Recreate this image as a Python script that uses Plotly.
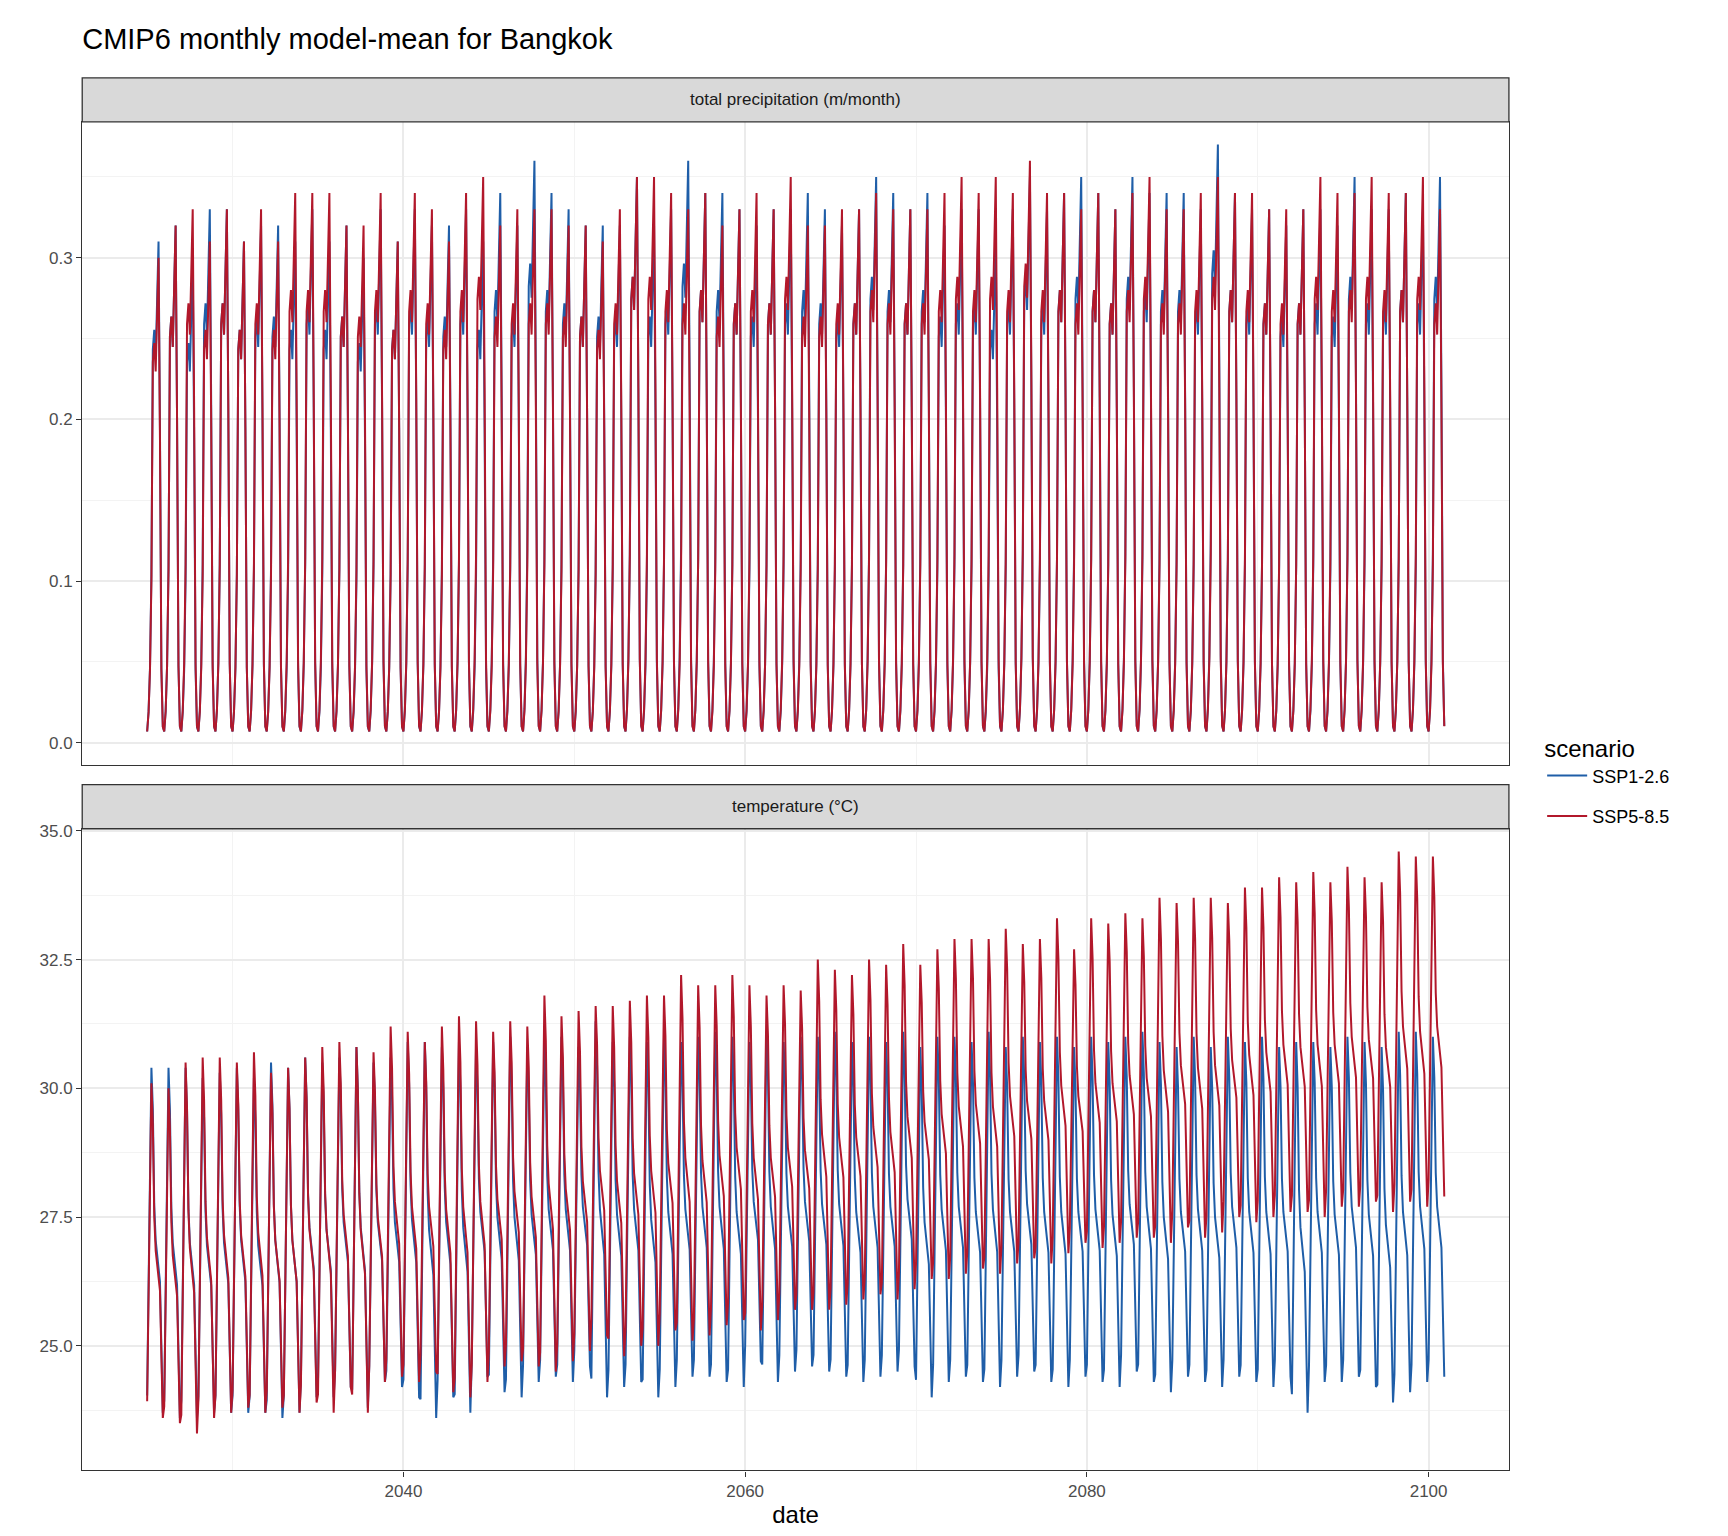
import plotly.graph_objects as go
from plotly.subplots import make_subplots

W, H = 1728, 1536
S = 1728 / 1560  # reference coordinates were measured on a 1560-wide view

years = list(range(2025, 2101))

# annual peaks / troughs (2025..2100)
tmax_126 = [30.4, 30.4, 30.4, 30.2, 30.3, 30.4, 30.2, 30.5, 30.4, 30.6, 30.5, 30.6, 30.8, 30.5, 30.6,
            30.9, 30.9, 30.8, 30.9, 30.8, 30.9, 31.0, 30.8, 30.9, 31.0, 30.8, 31.3, 30.9, 31.0, 30.9,
            31.0, 30.9, 31.0, 31.1, 31.0, 30.9, 31.1, 30.9, 31.0, 31.0, 31.1, 30.9, 31.0, 30.9, 31.1,
            30.8, 31.0, 31.0, 30.9, 31.1, 30.8, 31.0, 30.9, 31.0, 30.8, 31.0, 30.9, 31.0, 31.1, 30.9,
            30.8, 31.0, 30.8, 31.0, 30.9, 31.0, 30.8, 30.9, 30.9, 30.8, 31.0, 30.9, 30.8, 31.1, 31.1, 31.0]
tmin_126 = [23.7, 23.6, 23.6, 23.7, 23.7, 23.7, 23.7, 23.6, 23.7, 24.0, 24.0, 24.2, 23.8, 24.3, 24.2,
            24.0, 23.6, 24.0, 23.7, 24.4, 24.1, 24.0, 24.3, 24.4, 24.3, 24.6, 24.0, 24.2, 24.3, 24.0,
            24.2, 24.4, 24.4, 24.3, 24.2, 24.7, 24.3, 24.5, 24.6, 24.5, 24.4, 24.3, 24.4, 24.5, 24.6,
            24.0, 24.3, 24.4, 24.3, 24.2, 24.4, 24.5, 24.3, 24.2, 24.4, 24.3, 24.2, 24.5, 24.3, 24.1,
            24.4, 24.3, 24.2, 24.4, 24.3, 24.2, 24.4, 23.7, 24.3, 24.3, 24.4, 24.2, 23.9, 24.1, 24.3, 24.4]
tmax_585 = [30.1, 30.0, 30.5, 30.6, 30.6, 30.5, 30.7, 30.3, 30.4, 30.6, 30.8, 30.9, 30.8, 30.7, 31.2,
            31.1, 30.9, 31.2, 31.4, 31.3, 31.1, 31.3, 31.2, 31.8, 31.4, 31.5, 31.6, 31.6, 31.7, 31.8,
            31.8, 32.2, 32.0, 32.0, 32.2, 32.0, 31.8, 32.0, 31.9, 32.5, 32.3, 32.2, 32.5, 32.4, 32.8,
            32.4, 32.7, 32.9, 32.9, 32.9, 33.1, 32.8, 32.9, 33.3, 32.7, 33.3, 33.2, 33.4, 33.3, 33.7,
            33.6, 33.7, 33.7, 33.6, 33.9, 33.9, 34.1, 34.0, 34.2, 34.0, 34.3, 34.1, 34.0, 34.6, 34.5, 34.5]
tmin_585 = [23.6, 23.5, 23.3, 23.6, 23.7, 23.8, 23.7, 23.8, 23.7, 23.9, 23.7, 24.2, 23.7, 24.3, 24.4,
            24.3, 24.5, 24.1, 24.0, 24.3, 24.6, 24.7, 24.6, 24.5, 24.7, 24.9, 25.2, 24.8, 25.0, 25.0,
            25.3, 25.1, 25.2, 25.4, 25.5, 25.3, 25.5, 25.7, 25.7, 25.7, 25.8, 25.9, 26.0, 25.9, 26.1,
            26.3, 26.3, 26.4, 26.5, 26.4, 26.6, 26.7, 26.6, 26.8, 27.0, 26.9, 27.0, 27.1, 27.1, 27.0,
            27.3, 27.1, 27.2, 27.5, 27.4, 27.5, 27.6, 27.6, 27.5, 27.7, 27.7, 27.8, 27.6, 27.8, 27.7, 27.9]
pmax_126 = [0.31, 0.32, 0.30, 0.33, 0.33, 0.31, 0.32, 0.32, 0.31, 0.33, 0.31, 0.32, 0.30, 0.33, 0.31,
            0.33, 0.32, 0.32, 0.33, 0.31, 0.34, 0.32, 0.36, 0.34, 0.33, 0.32, 0.32, 0.32, 0.35, 0.32,
            0.33, 0.36, 0.34, 0.34, 0.33, 0.32, 0.33, 0.33, 0.34, 0.33, 0.32, 0.33, 0.35, 0.34, 0.33,
            0.34, 0.32, 0.33, 0.33, 0.31, 0.33, 0.35, 0.33, 0.34, 0.35, 0.34, 0.33, 0.35, 0.34, 0.34,
            0.34, 0.33, 0.37, 0.34, 0.33, 0.33, 0.32, 0.33, 0.33, 0.32, 0.35, 0.33, 0.33, 0.34, 0.33, 0.35]
pmax_585 = [0.30, 0.32, 0.33, 0.31, 0.33, 0.31, 0.33, 0.31, 0.34, 0.34, 0.34, 0.32, 0.32, 0.34, 0.31,
            0.34, 0.33, 0.31, 0.34, 0.35, 0.32, 0.33, 0.33, 0.33, 0.32, 0.32, 0.31, 0.33, 0.35, 0.35,
            0.34, 0.33, 0.34, 0.32, 0.33, 0.34, 0.33, 0.35, 0.32, 0.32, 0.33, 0.33, 0.34, 0.33, 0.33,
            0.33, 0.34, 0.35, 0.34, 0.35, 0.34, 0.36, 0.34, 0.34, 0.33, 0.34, 0.33, 0.34, 0.35, 0.33,
            0.33, 0.34, 0.35, 0.34, 0.34, 0.33, 0.33, 0.33, 0.35, 0.34, 0.34, 0.35, 0.34, 0.34, 0.35, 0.33]
# monthly seasonal shape (Jan..Dec), 0 = annual trough, 1 = annual peak
temp_shape = [0.05, 0.4, 0.75, 1.0, 0.88, 0.6, 0.5, 0.45, 0.42, 0.38, 0.22, 0.0]
prcp_shape = [0.0, 0.04, 0.13, 0.32, 0.78, 0.82, 0.76, 0.88, 1.0, 0.62, 0.13, 0.01]
prcp_floor = 0.007


def monthly(lo, hi, shape):
    xs, ys = [], []
    for i, yr in enumerate(years):
        for m, s in enumerate(shape):
            xs.append(yr + m / 12)
            ys.append(lo[i] + (hi[i] - lo[i]) * s)
    return xs, ys


BLUE, RED = '#1f5ea8', '#b2182b'
fig = make_subplots(rows=2, cols=1)

for name, col, pmax, tmin, tmax in [('SSP1-2.6', BLUE, pmax_126, tmin_126, tmax_126),
                                    ('SSP5-8.5', RED, pmax_585, tmin_585, tmax_585)]:
    px, py = monthly([prcp_floor] * len(years), pmax, prcp_shape)
    fig.add_trace(go.Scatter(x=px, y=py, mode='lines', line=dict(color=col, width=2),
                             name=name, legendgroup=name), row=1, col=1)
    tx, ty = monthly(tmin, tmax, temp_shape)
    fig.add_trace(go.Scatter(x=tx, y=ty, mode='lines', line=dict(color=col, width=2),
                             name=name, legendgroup=name, showlegend=False), row=2, col=1)

px0, px1 = 67 * S / W, 1355 * S / W
top = [1 - 680 * S / H, 1 - 97 * S / H]
bot = [1 - 1320 * S / H, 1 - 738 * S / H]
ax_style = dict(showline=True, mirror=True, linecolor='#333333', linewidth=1.3,
                gridcolor='#ebebeb', gridwidth=1.6, zeroline=False, ticks='outside',
                ticklen=5, tickcolor='#333333', tickfont=dict(size=17, color='#4d4d4d'))
fig.update_xaxes(range=[2021.2, 2104.7], tick0=2000, dtick=20,
                 minor=dict(dtick=10, showgrid=True, gridcolor='#f3f3f3', gridwidth=1),
                 domain=[px0, px1], **ax_style)
fig.update_xaxes(showticklabels=False, ticks='', row=1, col=1)
fig.update_xaxes(title=dict(text='date', font=dict(size=24, color='black'), standoff=6), row=2, col=1)
fig.update_yaxes(range=[-0.0136, 0.384], tick0=0, dtick=0.1, tickformat='.1f', domain=top,
                 minor=dict(dtick=0.05, showgrid=True, gridcolor='#f3f3f3', gridwidth=1),
                 row=1, col=1, **ax_style)
fig.update_yaxes(range=[22.58, 35.04], tick0=25, dtick=2.5, tickformat='.1f', domain=bot,
                 minor=dict(tick0=25, dtick=1.25, showgrid=True, gridcolor='#f3f3f3', gridwidth=1),
                 row=2, col=1, **ax_style)

for (y0, y1, label) in [(1 - 97 * S / H, 1 - 57 * S / H, 'total precipitation (m/month)'),
                        (1 - 738 * S / H, 1 - 698 * S / H, 'temperature (°C)')]:
    fig.add_shape(type='rect', xref='paper', yref='paper', x0=px0, x1=px1, y0=y0, y1=y1,
                  fillcolor='#d9d9d9', line=dict(color='#333333', width=1.3))
    fig.add_annotation(xref='paper', yref='paper', x=(px0 + px1) / 2, y=(y0 + y1) / 2,
                       xanchor='center', yanchor='middle',
                       text=label, showarrow=False, font=dict(size=17, color='#1a1a1a'))

fig.update_layout(
    width=W, height=H, margin=dict(l=0, r=0, t=0, b=0),
    paper_bgcolor='white', plot_bgcolor='white',
    font=dict(family='Liberation Sans, Arial, sans-serif', color='black'),
    title=dict(text='CMIP6 monthly model-mean for Bangkok', x=67 * S / W, xanchor='left',
               y=1 - 28 * S / H, yanchor='middle', font=dict(size=29, color='black')),
    legend=dict(x=1385 * S / W, y=1 - 645 * S / H, xanchor='left', yanchor='top',
                title=dict(text='scenario', font=dict(size=24, color='black')),
                font=dict(size=18, color='black'), tracegroupgap=14, itemwidth=40),
)

fig.write_html("out.html")
